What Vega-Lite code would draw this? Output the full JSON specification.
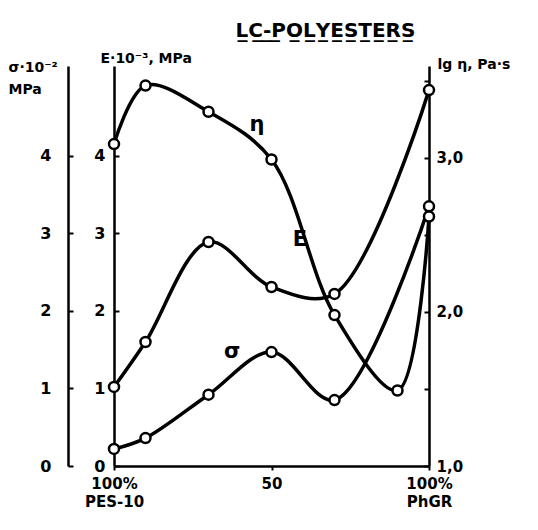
{
  "$schema": "https://vega.github.io/schema/vega-lite/v6.json",
  "autosize": {"type": "none"},
  "width": 315,
  "height": 400,
  "padding": {"left": 114, "top": 66, "right": 109, "bottom": 64},
  "background": "white",
  "config": {
    "view": {"stroke": null},
    "font": "DejaVu Sans",
    "axis": {"domainColor": "black", "domainWidth": 2.5, "tickColor": "black", "tickWidth": 2, "labelColor": "black", "titleColor": "black", "labelFont": "DejaVu Sans", "titleFont": "DejaVu Sans", "labelFontWeight": "bold", "titleFontWeight": "bold", "grid": false}
  },
  "title": {
    "text": "L̲C̲-̲P̲O̲L̲Y̲E̲S̲T̲E̲R̲S̲",
    "anchor": "middle",
    "dx": 54,
    "offset": -6,
    "fontSize": 20,
    "fontWeight": "bold",
    "font": "DejaVu Sans",
    "color": "black",
    "baseline": "alphabetic"
  },
  "datasets": {
    "E": [
      {"x": 0, "v": 1.02}, {"x": 10, "v": 1.6}, {"x": 30, "v": 2.89}, {"x": 50, "v": 2.31}, {"x": 70, "v": 2.22}, {"x": 100, "v": 4.85}
    ],
    "S": [
      {"x": 0, "v": 0.22}, {"x": 10, "v": 0.36}, {"x": 30, "v": 0.92}, {"x": 50, "v": 1.47}, {"x": 70, "v": 0.85}, {"x": 100, "v": 3.35}
    ],
    "H": [
      {"x": 0, "v": 3.09}, {"x": 10, "v": 3.47}, {"x": 30, "v": 3.3}, {"x": 50, "v": 2.99}, {"x": 70, "v": 1.98}, {"x": 90, "v": 1.49}, {"x": 100, "v": 2.62}
    ],
    "labels": [
      {"x": 45.4, "v": 4.4, "t": "η"},
      {"x": 59, "v": 2.92, "t": "E"},
      {"x": 37.5, "v": 1.47, "t": "σ"}
    ]
  },
  "resolve": {"scale": {"y": "independent"}},
  "layer": [
    {
      "layer": [
        {
          "data": {"name": "E"},
          "mark": {"type": "line", "interpolate": "catmull-rom", "color": "black", "strokeWidth": 3.5},
          "encoding": {
            "x": {"field": "x", "type": "quantitative", "scale": {"domain": [0, 100]},
              "axis": {"values": [0, 50, 100], "title": null, "tickSize": 4, "labelFontSize": 15, "labelPadding": 6, "labelLineHeight": 18,
                "labelExpr": "datum.value == 0 ? ['100%', 'PES-10'] : datum.value == 100 ? ['100%', 'PhGR'] : '50'", "labelFlush": false}},
            "y": {"field": "v", "type": "quantitative", "scale": {"domain": [0, 5.161], "nice": false, "zero": false},
              "axis": {"orient": "left", "values": [0, 1, 2, 3, 4], "format": "d", "tickSize": -5, "labelPadding": 14, "labelFontSize": 16,
                "title": "E·10⁻³, MPa", "titleAngle": 0, "titleAlign": "left", "titleBaseline": "alphabetic", "titleX": -14, "titleY": -4, "titleFontSize": 14}}
          }
        },
        {
          "data": {"name": "E"},
          "mark": {"type": "point", "shape": "circle", "filled": false, "fill": "white", "fillOpacity": 1, "color": "black", "strokeWidth": 2.5, "size": 100, "opacity": 1},
          "encoding": {
            "x": {"field": "x", "type": "quantitative"},
            "y": {"field": "v", "type": "quantitative"}
          }
        },
        {
          "data": {"name": "labels"},
          "mark": {"type": "text", "fontSize": 21, "fontWeight": "bold", "color": "black", "align": "center", "baseline": "middle"},
          "encoding": {
            "x": {"field": "x", "type": "quantitative"},
            "y": {"field": "v", "type": "quantitative"},
            "text": {"field": "t"}
          }
        }
      ]
    },
    {
      "layer": [
        {
          "data": {"name": "S"},
          "mark": {"type": "line", "interpolate": "catmull-rom", "color": "black", "strokeWidth": 3.5},
          "encoding": {
            "x": {"field": "x", "type": "quantitative"},
            "y": {"field": "v", "type": "quantitative", "scale": {"domain": [0, 5.161], "nice": false, "zero": false},
              "axis": {"orient": "left", "offset": 46, "values": [0, 1, 2, 3, 4], "format": "d", "tickSize": -5, "labelPadding": 22, "labelFontSize": 16,
                "title": ["σ·10⁻²", "MPa"], "titleAngle": 0, "titleAlign": "left", "titleBaseline": "alphabetic", "titleX": -60, "titleY": 5, "titleFontSize": 14, "titleLineHeight": 22}}
          }
        },
        {
          "data": {"name": "S"},
          "mark": {"type": "point", "shape": "circle", "filled": false, "fill": "white", "fillOpacity": 1, "color": "black", "strokeWidth": 2.5, "size": 100, "opacity": 1},
          "encoding": {
            "x": {"field": "x", "type": "quantitative"},
            "y": {"field": "v", "type": "quantitative"}
          }
        }
      ]
    },
    {
      "layer": [
        {
          "data": {"name": "H"},
          "mark": {"type": "line", "interpolate": "catmull-rom", "color": "black", "strokeWidth": 3.5},
          "encoding": {
            "x": {"field": "x", "type": "quantitative"},
            "y": {"field": "v", "type": "quantitative", "scale": {"domain": [1, 3.597], "nice": false, "zero": false},
              "axis": {"orient": "right", "values": [1, 1.5, 2, 2.5, 3, 3.5], "tickSize": -5, "labelPadding": 12, "labelFontSize": 15,
                "labelExpr": "datum.value % 1 == 0 ? replace(format(datum.value, '.1f'), '.', ',') : ''",
                "title": "lg η, Pa·s", "titleAngle": 0, "titleAlign": "left", "titleBaseline": "alphabetic", "titleX": 8, "titleY": 2, "titleFontSize": 14}}
          }
        },
        {
          "data": {"name": "H"},
          "mark": {"type": "point", "shape": "circle", "filled": false, "fill": "white", "fillOpacity": 1, "color": "black", "strokeWidth": 2.5, "size": 100, "opacity": 1},
          "encoding": {
            "x": {"field": "x", "type": "quantitative"},
            "y": {"field": "v", "type": "quantitative"}
          }
        }
      ]
    }
  ]
}
